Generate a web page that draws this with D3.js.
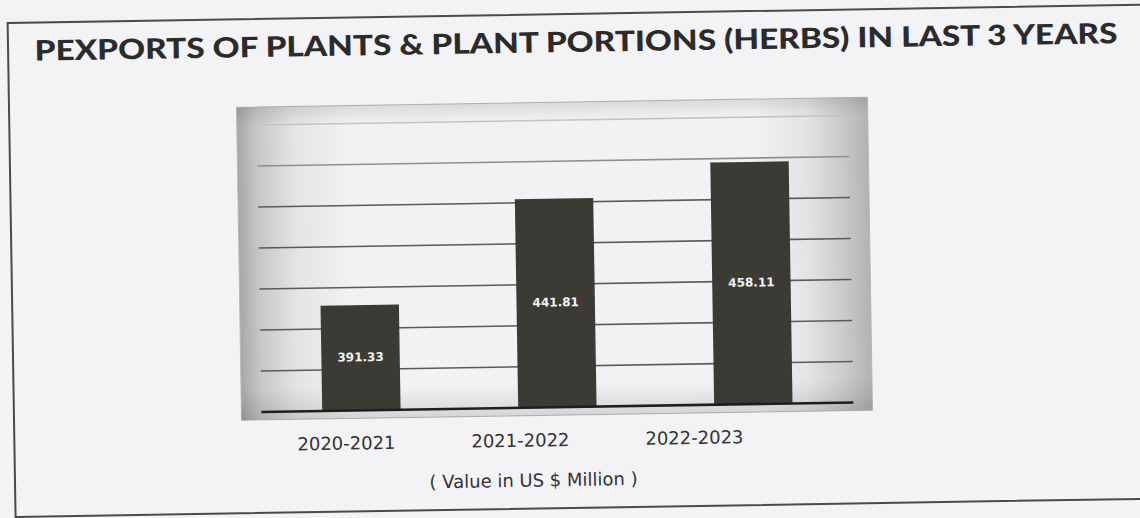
<!DOCTYPE html>
<html>
<head>
<meta charset="utf-8">
<script src="https://cdn.jsdelivr.net/npm/d3@7"></script>
<style>
  html, body { margin: 0; padding: 0; background: #f3f2f5; }
  svg { display: block; }
</style>
</head>
<body>
<script>
// ---- data ----
const categories = ["2020-2021", "2021-2022", "2022-2023"];
const values = [391.33, 441.81, 458.11];
const gridTicks = [360, 380, 400, 420, 440, 460, 480];
const titleText = "PEXPORTS OF PLANTS & PLANT PORTIONS (HERBS) IN LAST 3 YEARS";
const unitText = "( Value in US $ Million )";

const W = 1140, H = 518;
const svg = d3.select("body").append("svg").attr("width", W).attr("height", H);

const defs = svg.append("defs");
const grad = defs.append("linearGradient").attr("id", "plotbg").attr("x1", "0").attr("x2", "1").attr("y1", "0").attr("y2", "0");
[[0, "#a6a6a6"], [0.03, "#c6c6c6"], [0.09, "#e4e4e6"], [0.18, "#f2f2f4"], [0.82, "#f2f2f4"], [0.9, "#e4e4e6"], [0.96, "#c9c9c9"], [1, "#b2b2b2"]]
  .forEach(([o, c]) => grad.append("stop").attr("offset", o).attr("stop-color", c));
const gradV = defs.append("linearGradient").attr("id", "plotbgV").attr("x1", "0").attr("x2", "0").attr("y1", "0").attr("y2", "1");
[[0, "#000", 0.10], [0.06, "#000", 0.0], [0.9, "#000", 0.0], [1, "#000", 0.12]]
  .forEach(([o, c, a]) => gradV.append("stop").attr("offset", o).attr("stop-color", c).attr("stop-opacity", a));

const g = svg.append("g").attr("transform", "rotate(-0.92 570 259)");

// outer frame
g.append("rect").attr("x", 11.5).attr("y", 14).attr("width", 1200).attr("height", 494)
  .attr("fill", "#f3f2f5").attr("stroke", "#4a4a4a").attr("stroke-width", 2);

// title
g.append("text").attr("x", 38).attr("y", 52)
  .attr("textLength", 1083).attr("lengthAdjust", "spacingAndGlyphs")
  .style("font-family", "Lato, 'Open Sans', sans-serif").style("font-weight", 900)
  .style("font-size", "28px").attr("fill", "#2b2b2b").text(titleText);

// plot area
g.append("rect").attr("x", 239).attr("y", 102).attr("width", 631).attr("height", 313)
  .attr("fill", "url(#plotbg)").attr("stroke", "#b8b8b8").attr("stroke-width", 1);
g.append("rect").attr("x", 239).attr("y", 102).attr("width", 631).attr("height", 313)
  .attr("fill", "url(#plotbgV)");

// scales
const x = d3.scaleBand().domain(categories).range([261, 849]).paddingInner(0.6).paddingOuter(0.3);
const y = d3.scaleLinear().domain([340, 480]).range([407, 120]);
const gridColor = d3.scaleLinear().domain([440, 480]).range(["#5a5a5a", "#c4c4c4"]).clamp(true);

// gridlines
g.append("g").selectAll("line").data(gridTicks).join("line")
  .attr("x1", 259).attr("x2", 851)
  .attr("y1", d => y(d)).attr("y2", d => y(d))
  .attr("stroke", d => gridColor(d)).attr("stroke-width", 1.6);

// bars
g.append("g").selectAll("rect").data(values).join("rect")
  .attr("x", (d, i) => x(categories[i]))
  .attr("width", x.bandwidth())
  .attr("y", d => y(d))
  .attr("height", d => y(340) - y(d))
  .attr("fill", "#3b3a34");

// value labels
g.append("g").selectAll("text").data(values).join("text")
  .attr("x", (d, i) => x(categories[i]) + x.bandwidth() / 2)
  .attr("y", d => (y(d) + y(340)) / 2)
  .attr("text-anchor", "middle").attr("dominant-baseline", "middle")
  .style("font-family", "'DejaVu Sans', sans-serif").style("font-weight", "bold")
  .style("font-size", "12px").attr("fill", "#f2f2f2")
  .text(d => d.toFixed(2));

// baseline
g.append("line").attr("x1", 259).attr("x2", 851).attr("y1", y(340)).attr("y2", y(340))
  .attr("stroke", "#1e1e1e").attr("stroke-width", 2.6);

// category labels (placed below, slightly left of bars as in the original)
const xl = d3.scalePoint().domain(categories).range([343, 691]);
const axis = g.append("g").attr("transform", "translate(0,446)")
  .call(d3.axisBottom(xl).tickSize(0).tickPadding(0));
axis.select(".domain").remove();
axis.selectAll("text").attr("dy", 0).attr("y", 0)
  .style("font-family", "'DejaVu Sans', Verdana, sans-serif").style("font-size", "18px")
  .attr("fill", "#333");

// unit note
g.append("text").attr("x", 530).attr("y", 486).attr("text-anchor", "middle")
  .style("font-family", "'DejaVu Sans', Verdana, sans-serif").style("font-size", "18px")
  .attr("fill", "#333").text(unitText);
</script>
</body>
</html>
